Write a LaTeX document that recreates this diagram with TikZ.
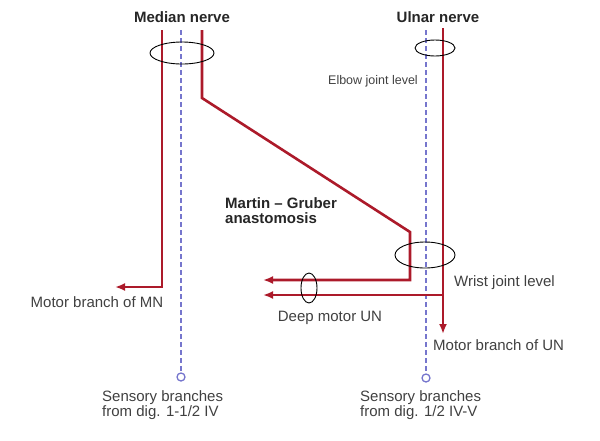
\documentclass[tikz,border=0pt]{standalone}
\usepackage{fontspec}
\setmainfont{Liberation Sans}
\usetikzlibrary{arrows.meta,positioning,shapes.geometric}
\definecolor{nerve}{RGB}{172,26,42}
\definecolor{sensory}{RGB}{118,118,205}

\begin{document}
\begin{tikzpicture}[>={Latex[length=10pt,width=8pt]}, x=1pt, y=-1pt]
    \tikzset{motor/.style={
      draw=nerve,
      line width=2.6pt
    },
    sens/.style={
      draw=sensory,
      line width=1.9pt,
      dash pattern=on 5pt off 3pt
    },
    ring/.style={
      draw,
      ellipse,
      line width=0.9pt,
      inner sep=0pt
    },
    tip/.style={
      draw=sensory,
      circle,
      line width=1.3pt,
      minimum size=8pt,
      inner sep=0pt
    },
    lbl/.style={
      font=\fontsize{15}{15}\selectfont,
      align=left,
      text=black!75,
      inner sep=0pt
    },
    title/.style={
      lbl,
      font=\fontsize{15}{15}\selectfont\bfseries,
      text=black!85
    }};

    \useasboundingbox (0,0) rectangle (600,440);

    \node [title] (mn) at (182,17) {Median nerve};
    \node [title] (un) at (438,17) {Ulnar nerve};

    % sensory fibres
    \coordinate (mnS) at (181,30);
    \node [tip] (mnC) at (181,377) {};
    \coordinate (unS) at (426,30);
    \node [tip] (unC) at (426,378) {};
    \path[sens] (mnS) -- (mnC);
    \path[sens] (unS) -- (unC);

    % motor fibres
    \coordinate (mnA) at (162,30);
    \coordinate (mnAe) at (162,287);
    \coordinate (mnAt) at (115,287);
    \coordinate (mnB) at (202,30);
    \coordinate (mnBk) at (202,98);
    \coordinate (mg) at (410,232);
    \coordinate (mgW) at (410,280);
    \coordinate (mgT) at (263,280);
    \coordinate (unA) at (443,28);
    \coordinate (unT) at (443,334);
    \coordinate (unBr) at (443,295);
    \coordinate (dmT) at (263,295);

    \path[motor,->] (mnA) -- (mnAe) -- (mnAt);
    \path[motor,->] (mnB) -- (mnBk) -- (mg) -- (mgW) -- (mgT);
    \path[motor,->] (unA) -- (unT);
    \path[motor,->] (unBr) -- (dmT);

    \node [ring, minimum width=64pt, minimum height=22pt] (mnRing) at (182,53) {};
    \node [ring, minimum width=40pt, minimum height=16pt] (unRing) at (435,48) {};
    \node [ring, minimum width=60pt, minimum height=26pt] (wrRing) at (425,255) {};
    \node [ring, minimum width=16pt, minimum height=30pt] (dmRing) at (309,288) {};

    \node [lbl, font=\fontsize{12.5}{12.5}\selectfont, anchor=east] (elbow) at (418,81) {Elbow joint level};
    \node [title, anchor=west] (mga) at (225,211) {Martin -- Gruber\\anastomosis};
    \node [lbl, anchor=west] (wrist) at (454,283) {Wrist joint level};
    \node [lbl] (deep) at (330,318) {Deep motor UN};
    \node [lbl] (mbMN) at (97,302) {Motor branch of MN};
    \node [lbl, anchor=west] (mbUN) at (433,345) {Motor branch of UN};
    \node [lbl, anchor=west] (sMN) at (102,405) {Sensory branches\\from dig. 1-1/2 IV};
    \node [lbl, anchor=west] (sUN) at (360,405) {Sensory branches\\from dig. 1/2 IV-V};

  \end{tikzpicture}
\end{document}
